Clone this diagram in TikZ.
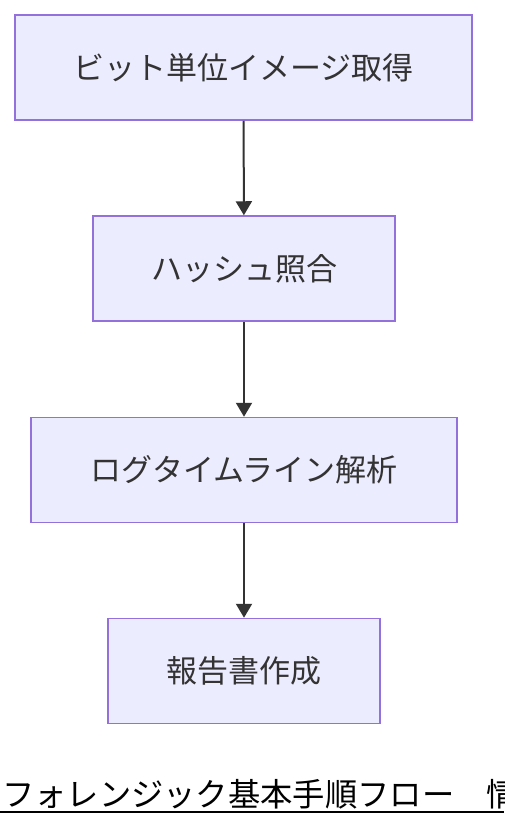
\documentclass[tikz,border=0pt]{standalone}
\usepackage{fontspec}
\setmainfont{Noto Sans CJK JP}
\usepackage{xcolor}
\usetikzlibrary{arrows.meta}
\definecolor{boxfill}{HTML}{ECECFF}
\definecolor{boxline}{HTML}{9370DB}
\definecolor{ink}{HTML}{333333}
\tikzset{
 stepbox/.style={draw=boxline,fill=boxfill,line width=1.5pt,text=ink,
  minimum height=105pt,inner sep=0pt,font=\fontsize{31}{36}\selectfont},
 arr/.style={draw=ink,line width=2pt,-{Triangle[length=14pt,width=16pt]}},
 }

\begin{document}
\begin{tikzpicture}[x=1pt,y=1pt]
        \useasboundingbox (0,0) rectangle (504,-828);
        \node[stepbox,minimum width=457pt] (image) at (243.5,-67.5) {ビット単位イメージ取得};
        \node[stepbox,minimum width=302pt] (hash) at (244,-268.5) {ハッシュ照合};
        \node[stepbox,minimum width=426pt] (log) at (244,-470) {ログタイムライン解析};
        \node[stepbox,minimum width=272pt] (report) at (244,-671) {報告書作成};

        \draw[arr] (image) -- (hash);
        \draw[arr] (hash) -- (log);
        \draw[arr] (log) -- (report);

        \node[anchor=base west,inner sep=0pt,font=\fontsize{32.3}{37}\selectfont] (title) at (2,-806)
        {フォレンジック基本手順フロー　情};
        \draw[line width=2pt] (0,-812) -- (504,-812);
    \end{tikzpicture}
\end{document}
